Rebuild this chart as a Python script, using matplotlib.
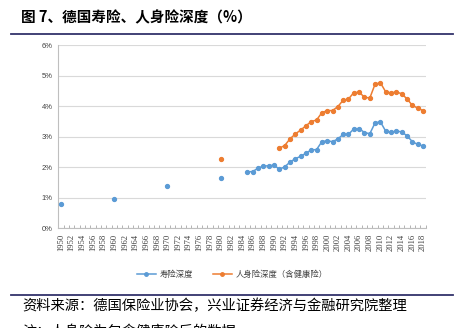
import numpy as np
import matplotlib
matplotlib.use("Agg")
import matplotlib.pyplot as plt
from matplotlib.lines import Line2D

plt.rcParams['font.family'] = ['Noto Sans CJK SC', 'DejaVu Sans']

years = list(range(1950, 2019))

life_years = [1950, 1960, 1970, 1980] + list(range(1985, 2019))
life_vals = [0.80, 0.97, 1.39, 1.66,
             1.85, 1.86, 1.97, 2.04, 2.05, 2.07, 1.94, 2.01, 2.17, 2.28,
             2.36, 2.46, 2.57, 2.58, 2.84, 2.87, 2.84, 2.93, 3.08, 3.08,
             3.26, 3.27, 3.14, 3.10, 3.46, 3.49, 3.18, 3.15, 3.19, 3.16,
             3.03, 2.84, 2.75, 2.70]

pers_years = [1980] + list(range(1991, 2019))
pers_vals = [2.26,
             2.63, 2.71, 2.93, 3.09, 3.22, 3.36, 3.50, 3.55, 3.79, 3.86,
             3.86, 3.99, 4.20, 4.24, 4.45, 4.46, 4.30, 4.27, 4.73, 4.77,
             4.47, 4.44, 4.47, 4.41, 4.24, 4.03, 3.94, 3.86]

series_names = ['寿险深度', '人身险深度（含健康险）']
colors = ['#5B9BD5', '#ED7D31']


def align(ys, vs):
    out = np.full(len(years), np.nan)
    for y, v in zip(ys, vs):
        out[years.index(y)] = v
    return out


life = align(life_years, life_vals)
pers = align(pers_years, pers_vals)

W, H = 454, 328
fig = plt.figure(figsize=(W / 100, H / 100), dpi=100)

# plot area (pixel coords converted to figure fraction)
x0, x1, ytop, ybot = 58.3, 425.7, 45.3, 228.3
ax = fig.add_axes([x0 / W, 1 - ybot / H, (x1 - x0) / W, (ybot - ytop) / H])

x = np.arange(len(years))
ax.plot(x, life, color=colors[0], lw=1.1, marker='o', ms=2.8, zorder=3)
ax.plot(x, pers, color=colors[1], lw=1.1, marker='o', ms=2.8, zorder=3)

ax.set_xlim(-0.5, len(years) - 0.5)
ax.set_ylim(0, 6)
ax.set_yticks(range(0, 7))
ax.set_yticklabels([f'{v}%' for v in range(0, 7)], family='Liberation Sans', fontsize=5.5, color='#404040')
ax.yaxis.grid(True, color='#d9d9d9', lw=0.8)
ax.set_axisbelow(True)

major = [i for i, y in enumerate(years) if y % 2 == 0]
ax.set_xticks(major)
ax.set_xticklabels([str(years[i]) for i in major], rotation=90, family='Liberation Serif', fontsize=6.2, color='#404040')
ax.set_xticks(np.arange(-0.5, len(years)), minor=True)
ax.tick_params(axis='x', which='major', length=0, pad=4)
ax.tick_params(axis='x', which='minor', direction='in', length=2, color='#a6a6a6', width=0.6)
ax.tick_params(axis='y', length=0, pad=4)

for s in ['top', 'right']:
    ax.spines[s].set_visible(False)
for s in ['left', 'bottom']:
    ax.spines[s].set_color('#bfbfbf')
    ax.spines[s].set_linewidth(0.8)

handles = [Line2D([], [], color=c, lw=1.1, marker='o', ms=2.5) for c in colors]
fig.legend(handles, series_names, loc='center', bbox_to_anchor=(232 / W, 1 - 274 / H),
           ncol=2, frameon=False, fontsize=6, handlelength=2.3, handletextpad=0.4,
           columnspacing=2.4, labelcolor='#404040')

# title and rules
fig.text(21 / W, 1 - 17 / H, '图 7、德国寿险、人身险深度（%）', fontsize=10.5, fontweight='bold', va='center', ha='left')
fig.add_artist(Line2D([11 / W, 453 / W], [1 - 34 / H, 1 - 34 / H], color='#33336b', lw=1.3))
fig.add_artist(Line2D([11 / W, 453 / W], [1 - 295.3 / H, 1 - 295.3 / H], color='#33336b', lw=1.3))

fig.text(22 / W, 1 - 306 / H, '资料来源：德国保险业协会，兴业证券经济与金融研究院整理', fontsize=10.3, va='center', ha='left')
fig.text(22 / W, 1 - 325 / H, '注：人身险为包含健康险后的数据', fontsize=10.3, va='top', ha='left')

fig.savefig('out.png', dpi=100)
